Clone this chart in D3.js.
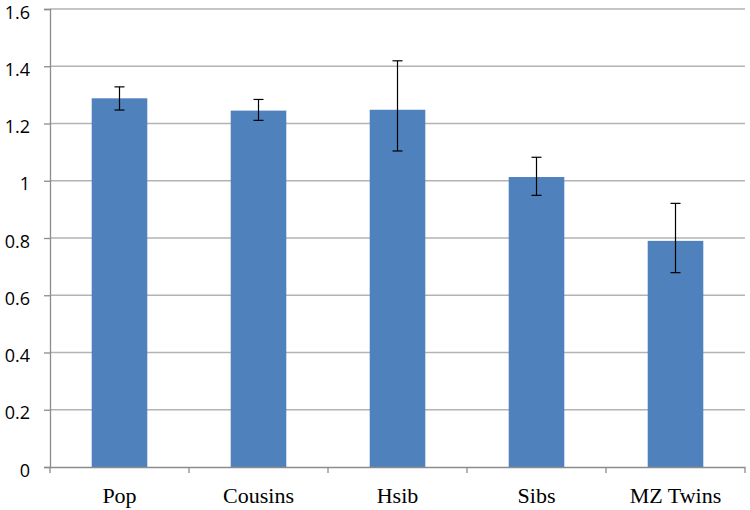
<!DOCTYPE html>
<html>
<head>
<meta charset="utf-8">
<script src="https://cdn.jsdelivr.net/npm/d3@7"></script>
<style>
  body { margin: 0; background: #fff; }
  .ylab { font-family: "Open Sans", sans-serif; font-size: 18px; fill: #000; }
  .xlab { font-family: "Liberation Serif", serif; font-size: 22px; fill: #000; }
</style>
</head>
<body>
<div id="chart"></div>
<script>
var categories = ["Pop", "Cousins", "Hsib", "Sibs", "MZ Twins"];
var values     = [1.288, 1.245, 1.248, 1.013, 0.790];
var errUp      = [0.040, 0.039, 0.171, 0.069, 0.131];
var errDown    = [0.041, 0.034, 0.144, 0.064, 0.111];
var yTicks     = [0, 0.2, 0.4, 0.6, 0.8, 1, 1.2, 1.4, 1.6];

var width = 750, height = 510;
var margin = {top: 9, right: 5, bottom: 43, left: 50};

var svg = d3.select("#chart").append("svg")
    .attr("width", width)
    .attr("height", height);

var x = d3.scaleBand()
    .domain(categories)
    .range([margin.left, width - margin.right])
    .padding(0);

var y = d3.scaleLinear()
    .domain([0, 1.6])
    .range([height - margin.bottom, margin.top]);

var barW = x.bandwidth() / 2.5;

// gridlines
svg.append("g")
  .selectAll("line")
  .data(yTicks.filter(function(d) { return d > 0; }))
  .enter().append("line")
    .attr("x1", margin.left)
    .attr("x2", width - margin.right)
    .attr("y1", function(d) { return y(d); })
    .attr("y2", function(d) { return y(d); })
    .attr("stroke", "#b3b3b3")
    .attr("stroke-width", 1.3);

// y axis
var yAxis = d3.axisLeft(y).tickValues(yTicks).tickSize(6).tickPadding(6)
    .tickFormat(function(d) { return d3.format("")(d); });
var gy = svg.append("g")
    .attr("transform", "translate(" + margin.left + ",0)")
    .call(yAxis);
gy.select(".domain").attr("stroke", "#8c8c8c").attr("stroke-width", 1.3);
gy.selectAll(".tick line").attr("stroke", "#8c8c8c").attr("stroke-width", 1.3);
gy.selectAll(".tick text").attr("class", "ylab").attr("x", -20).attr("dy", 0).attr("y", 9);

// bars
svg.append("g")
  .selectAll("rect")
  .data(categories)
  .enter().append("rect")
    .attr("x", function(d) { return x(d) + (x.bandwidth() - barW) / 2; })
    .attr("width", barW)
    .attr("y", function(d, i) { return y(values[i]); })
    .attr("height", function(d, i) { return y(0) - y(values[i]); })
    .attr("fill", "#4f81bd");

// x axis
var xAxis = d3.axisBottom(x).tickSize(0).tickPadding(14);
var gx = svg.append("g")
    .attr("transform", "translate(0," + y(0) + ")")
    .call(xAxis);
gx.select(".domain").attr("stroke", "#8c8c8c").attr("stroke-width", 1.3);
gx.selectAll(".tick text").attr("class", "xlab").attr("dy", 0).attr("y", 36);

// boundary ticks on x axis
var bounds = categories.map(function(d) { return x(d); }).concat([x.range()[1]]);
gx.selectAll(".bound")
  .data(bounds)
  .enter().append("line")
    .attr("class", "bound")
    .attr("x1", function(d) { return d; })
    .attr("x2", function(d) { return d; })
    .attr("y1", 0)
    .attr("y2", 6)
    .attr("stroke", "#8c8c8c")
    .attr("stroke-width", 1.3);

// error bars
var eb = svg.append("g").selectAll("g")
  .data(categories)
  .enter().append("g");
eb.append("line")
    .attr("x1", function(d) { return x(d) + x.bandwidth() / 2; })
    .attr("x2", function(d) { return x(d) + x.bandwidth() / 2; })
    .attr("y1", function(d, i) { return y(values[i] + errUp[i]); })
    .attr("y2", function(d, i) { return y(values[i] - errDown[i]); })
    .attr("stroke", "#000").attr("stroke-width", 1.2);
eb.append("line")
    .attr("x1", function(d) { return x(d) + x.bandwidth() / 2 - 5; })
    .attr("x2", function(d) { return x(d) + x.bandwidth() / 2 + 5; })
    .attr("y1", function(d, i) { return y(values[i] + errUp[i]); })
    .attr("y2", function(d, i) { return y(values[i] + errUp[i]); })
    .attr("stroke", "#000").attr("stroke-width", 1.2);
eb.append("line")
    .attr("x1", function(d) { return x(d) + x.bandwidth() / 2 - 5; })
    .attr("x2", function(d) { return x(d) + x.bandwidth() / 2 + 5; })
    .attr("y1", function(d, i) { return y(values[i] - errDown[i]); })
    .attr("y2", function(d, i) { return y(values[i] - errDown[i]); })
    .attr("stroke", "#000").attr("stroke-width", 1.2);
</script>
</body>
</html>
